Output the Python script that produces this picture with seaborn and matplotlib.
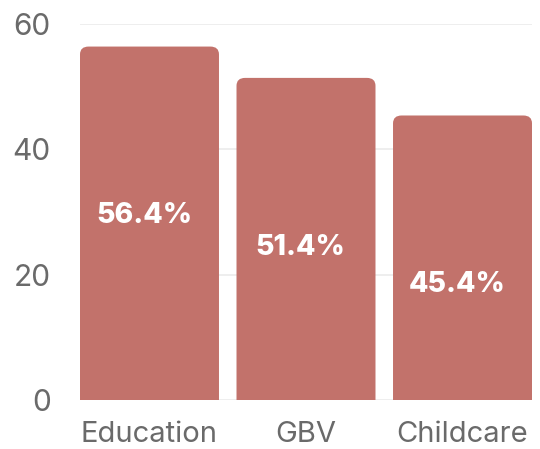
import numpy as np
import pandas as pd
import matplotlib
matplotlib.use("Agg")
import matplotlib.pyplot as plt
import seaborn as sns
from matplotlib.patches import FancyBboxPatch

## Dados
categories = ["Education", "GBV", "Childcare"]
values = [56.4, 51.4, 45.4]
labels = ["56.4%", "51.4%", "45.4%"]
yticks = [0, 20, 40, 60]

bar_color = "#c2726b"
text_gray = "#6a6a6a"

sns.set_theme(style="white")
plt.rcParams['font.family'] = ['Inter', 'DejaVu Sans']

df = pd.DataFrame({"category": categories, "value": values})

fig = plt.figure(figsize=(5.4, 4.49), dpi=100)
ax = fig.add_axes([80/540, 1 - 400/449, 452/540, 376/449])

sns.barplot(data=df, x="category", y="value", color=bar_color, width=0.888,
            saturation=1, ax=ax, zorder=2)

# cantos arredondados no topo (a base fica cortada pelo eixo)
for p in list(ax.patches):
    x0, w, h = p.get_x(), p.get_width(), p.get_height()
    rb = FancyBboxPatch((x0, -5), w, h + 5,
                        boxstyle="round,pad=0,rounding_size=0.055",
                        mutation_aspect=22.7,
                        facecolor=bar_color, edgecolor="none", zorder=2)
    p.remove()
    ax.add_patch(rb)

# rótulos dentro das barras
for i, v in enumerate(values):
    ax.text(i - 0.035, v - 27, labels[i], ha="center", va="center",
            color="white", fontsize=20.5, fontweight="heavy", zorder=3)

ax.set_xlim(-0.444, 2.444)
ax.set_ylim(0, 60)
ax.set_yticks(yticks)
ax.yaxis.grid(True, color="#ebebeb", linewidth=1.2, zorder=0)
ax.set_axisbelow(True)
for s in ax.spines.values():
    s.set_visible(False)
ax.tick_params(axis="y", length=0, pad=21, labelsize=21.5, labelcolor=text_gray)
ax.tick_params(axis="x", length=0, pad=15, labelsize=21, labelcolor=text_gray)
ax.set_xlabel("")
ax.set_ylabel("")

plt.savefig("out.png", dpi=100)
